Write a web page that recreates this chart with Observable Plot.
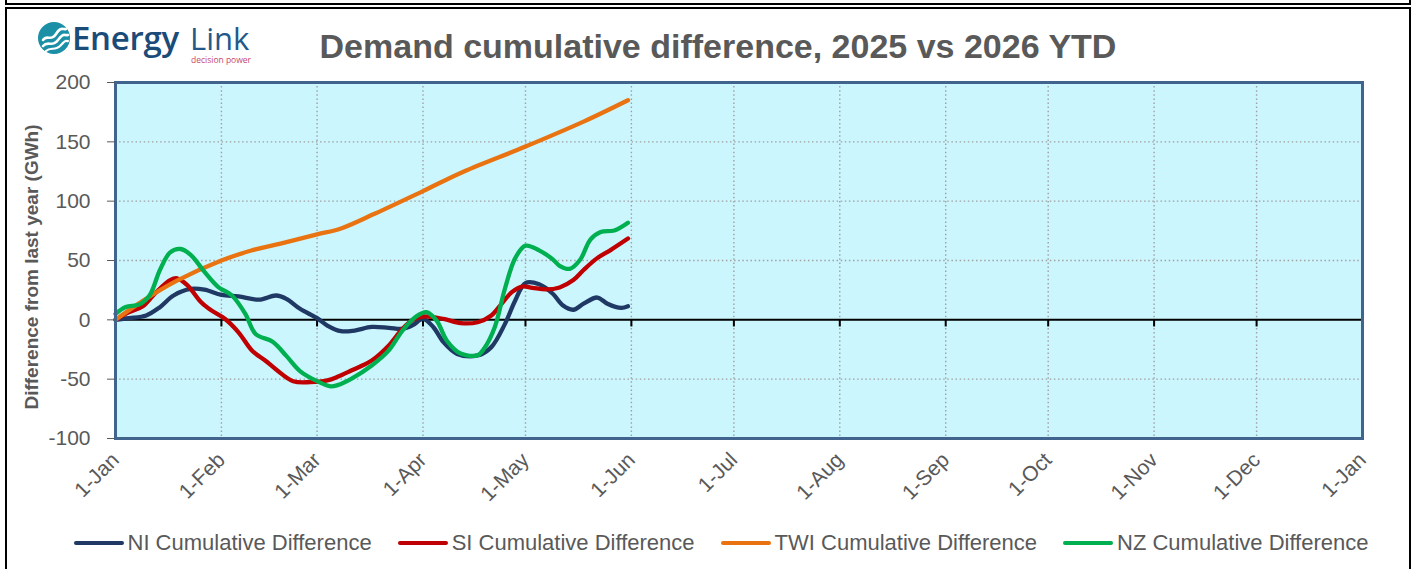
<!DOCTYPE html>
<html><head><meta charset="utf-8">
<script src="https://cdn.jsdelivr.net/npm/d3@7"></script>
<script src="https://cdn.jsdelivr.net/npm/@observablehq/plot@0.6"></script>
<style>
html,body{margin:0;padding:0;background:#fff;}
#wrap{position:relative;width:1417px;height:569px;overflow:hidden;font-family:"Liberation Sans",Arial,sans-serif;color:#595959;}
.topbox{position:absolute;left:5px;top:-20px;width:1402px;height:21px;border:2px solid #000;}
.box{position:absolute;left:5px;top:7px;width:1402px;height:600px;border:2px solid #000;}
#chart{position:absolute;left:0;top:0;}
#title{position:absolute;left:0;width:1436px;top:29px;text-align:center;font-weight:bold;font-size:34px;line-height:34px;color:#595959;}
#ylabel{position:absolute;left:32px;top:267px;transform:translate(-50%,-50%) rotate(-90deg);white-space:nowrap;font-weight:bold;font-size:19px;color:#595959;}
#legend{position:absolute;left:0;width:1442px;top:530px;display:flex;justify-content:center;gap:26px;font-family:"Liberation Sans",Arial,sans-serif;font-size:22px;color:#595959;}
#legend .item{display:flex;align-items:center;}
#legend .sw{width:50px;height:4px;border-radius:2px;margin-right:4px;}
#logo{position:absolute;left:37px;top:12px;}
</style></head><body>
<div id="wrap">
  <div class="topbox"></div>
  <div class="box"></div>
  <div id="logo">
    <svg width="230" height="56" viewBox="0 0 230 56">
      <circle cx="17" cy="26" r="16" fill="#1b8fa6"/>
      <path d="M6 28 C10 22, 14 30, 19 22 S26 18, 29 17" fill="none" stroke="#fff" stroke-width="2.6" stroke-linecap="round"/>
      <path d="M6 34 C11 28, 15 36, 21 28 S27 24, 31 23" fill="none" stroke="#fff" stroke-width="2.6" stroke-linecap="round"/>
      <path d="M9 39 C14 34, 18 40, 24 33 S29 30, 31 29" fill="none" stroke="#fff" stroke-width="2.2" stroke-linecap="round"/>
      <text x="35" y="38" font-family="Open Sans, Liberation Sans, sans-serif" font-size="33" font-weight="600" fill="#1b4b78" letter-spacing="-0.3">Energy</text>
      <text x="153" y="38" font-family="Open Sans, Liberation Sans, sans-serif" font-size="31" font-weight="400" fill="#23598a">Link</text>
      <text x="154" y="51" font-family="Open Sans, Liberation Sans, sans-serif" font-size="8.5" fill="#c8476c">decision power</text>
    </svg>
  </div>
  <div id="title">Demand cumulative difference, 2025 vs 2026 YTD</div>
  <div id="chart"></div>
  <div id="ylabel">Difference from last year (GWh)</div>
  <div id="legend"></div>
</div>
<script>
// x ticks (month starts) and their labels
const xTickDates = ["2026-01-01","2026-02-01","2026-03-01","2026-04-01","2026-05-01","2026-06-01","2026-07-01","2026-08-01","2026-09-01","2026-10-01","2026-11-01","2026-12-01","2027-01-01"];
const xTickLabels = ["1-Jan","1-Feb","1-Mar","1-Apr","1-May","1-Jun","1-Jul","1-Aug","1-Sep","1-Oct","1-Nov","1-Dec","1-Jan"];
const yTicks = [-100,-50,0,50,100,150,200];

const seriesNames = ["NI Cumulative Difference","SI Cumulative Difference","TWI Cumulative Difference","NZ Cumulative Difference"];
const seriesColors = ["#1f3864","#c00000","#e97311","#00b050"];

// days since 1-Jan and values (GWh)
const niDays   = [0,4,9,13,17,22,26,31,36,42,47,50,54,59,62,66,70,75,80,84,87,90,93,96,100,106,110,114,117,120,124,128,131,134,137,141,144,148,150];
const niValues = [0,1.4,3.7,10.7,20.5,26,25.4,21,19.7,17,20.5,17.7,9.3,1.4,-4.8,-9.6,-9,-6,-6.8,-7.6,-4.5,0.8,-6,-18.8,-28.7,-30,-23,-3.4,16.3,31,30,22,12,8.5,13.6,18.8,13.6,10,11.4];

const siDays   = [0,4,8,12,16,18,21,25,28,32,36,40,44,47,52,57,62,65,69,75,80,84,87,90,96,101,106,110,113,116,119,122,126,130,134,137,141,145,150];
const siValues = [0,6.5,11.4,23.6,33.5,35,29.3,15,8,0.9,-10.5,-26,-34.7,-41.8,-51.7,-52.5,-51,-48,-42.7,-34.3,-21.6,-7.6,0,2.8,0.8,-2.8,-2,3.7,13.5,23.3,28,27,25.6,27.3,33.5,42,52,59,68.5];

const twiDays   = [0,8,18,31,40,48,59,66,76,90,102,120,137,150];
const twiValues = [0,16,33,50,58.6,64,72,77,89.6,108.5,125,146,167,185];

const nzDays   = [0,3,7,10,13,16,19,22,26,30,34,38,41,46,50,54,59,63,65,69,75,80,84,88,91,94,97,101,106,108,111,114,117,120,124,128,130,133,136,139,142,146,150];
const nzValues = [5,10.8,13,20.7,42,56.8,59.7,54.8,40.6,27.8,20.7,5.1,-11.9,-18.5,-30.4,-43.2,-51.7,-56,-55,-49.7,-38.5,-25.8,-9,2.8,6.5,-0.6,-17.6,-28.4,-29.8,-23.8,-6.2,26.4,52,62.5,58.5,51,45.5,43,50.6,67.6,74,75.3,81.8];

const seriesData = [[niDays,niValues],[siDays,siValues],[twiDays,twiValues],[nzDays,nzValues]];
const start = new Date(xTickDates[0]);
const rows = seriesData.flatMap(([days, vals], k) =>
  days.map((d, i) => ({series: seriesNames[k], date: d3.utcDay.offset(start, d), value: vals[i]})));

const tickDates = xTickDates.map(s => new Date(s));
const labelFor = d => xTickLabels[tickDates.findIndex(t => +t === +d)];

const grid = {stroke:"#a0a0a0", strokeOpacity:1, strokeWidth:1.4, strokeDasharray:"1.5,2.6"};

const chart = Plot.plot({
  width: 1417, height: 569,
  marginLeft: 115, marginRight: 55, marginTop: 82, marginBottom: 131,
  style: {fontFamily: "Liberation Sans, Arial, sans-serif", fontSize: "20px", color: "#595959", background: "transparent", overflow: "visible"},
  x: {type: "utc", domain: [tickDates[0], tickDates[tickDates.length - 1]]},
  y: {domain: [yTicks[0], yTicks[yTicks.length - 1]]},
  color: {domain: seriesNames, range: seriesColors},
  marks: [
    Plot.frame({fill: "#ccf6fe", stroke: null}),
    Plot.gridY(yTicks.slice(1, -1).filter(v => v !== 0), grid),
    Plot.gridX(tickDates.slice(1, -1), grid),
    Plot.ruleY([0], {stroke: "#000", strokeWidth: 2}),
    Plot.ruleX(tickDates.slice(1, -1), {x: d => d, y1: 0, y2: -6, stroke: "#000", strokeWidth: 2}),
    Plot.line(rows, {x: "date", y: "value", z: "series", stroke: "series", strokeWidth: 4.3, curve: "catmull-rom", strokeLinejoin: "round", strokeLinecap: "round"}),
    Plot.frame({stroke: "#41648f", strokeWidth: 3}),
    Plot.axisY(yTicks, {tickSize: 8, tickPadding: 17, fontSize: 21, label: null, stroke: "#595959", fill: "#595959", tickFormat: d => String(d)}),
    Plot.axisX(tickDates, {tickSize: 0, tickPadding: 18, tickRotate: -45, tickFormat: labelFor, fontSize: 21, label: null, fill: "#595959"})
  ]
});
document.getElementById("chart").appendChild(chart);

const legend = document.getElementById("legend");
seriesNames.forEach((n, i) => {
  const it = document.createElement("div"); it.className = "item";
  const sw = document.createElement("div"); sw.className = "sw"; sw.style.background = seriesColors[i];
  const tx = document.createElement("span"); tx.textContent = n;
  it.appendChild(sw); it.appendChild(tx); legend.appendChild(it);
});
</script>
</body></html>
